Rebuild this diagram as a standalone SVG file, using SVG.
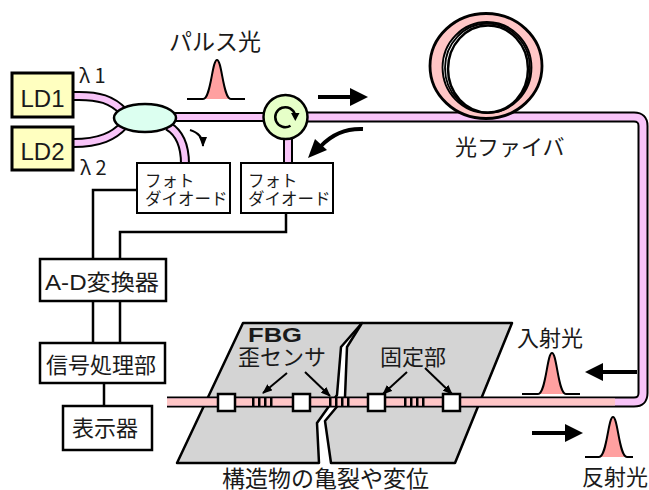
<svg xmlns="http://www.w3.org/2000/svg" width="649" height="490" viewBox="0 0 649 490">
<defs>
<style>
.t{font-family:"Noto Sans CJK JP","Liberation Sans",sans-serif;font-size:22px;fill:#1a1a1a}
.lat{font-family:"Liberation Sans","Noto Sans CJK JP",sans-serif}
.pd{font-size:16.5px}
.box{fill:#fff;stroke:#000;stroke-width:2.5}
.ld{fill:#ffffc0;stroke:#000;stroke-width:3}
.wire{fill:none;stroke:#000;stroke-width:2.5}
.fo{fill:none;stroke:#000;stroke-width:10}
.fi{fill:none;stroke:#f8c4f8;stroke-width:6}
.fs{fill:none;stroke:#ffc6c6;stroke-width:6}
.slab{fill:#d4d4d4;stroke:#000;stroke-width:2.5;stroke-linejoin:round}
.bump{fill:#ffa0a0;stroke:none}
.base{fill:none;stroke:#000;stroke-width:2}
.shaft{fill:none;stroke:#000;stroke-width:4}
.ptr{fill:none;stroke:#000;stroke-width:2}
.sq{fill:#fff;stroke:#000;stroke-width:2.5}
.coil{fill:none;stroke:#000;stroke-width:1.8}
</style>
<marker id="tip" viewBox="0 0 10 8" refX="9" refY="4" markerWidth="10" markerHeight="8" markerUnits="userSpaceOnUse" orient="auto">
<path d="M0,0 L10,4 L0,8 Z" fill="#000"/>
</marker>
</defs>

<!-- structure slabs with crack -->
<g id="structure">
<polygon class="slab" points="243,323 362,323 341,347 337,395 317,423 319,463 177,463"/>
<polygon class="slab" points="362,323 512,323 455,463 331,463 325,421 345,397 347,347"/>
</g>

<!-- optical fibres and electrical wiring -->
<g id="connectors">
<!-- LD1 / LD2 to coupler -->
<path class="fo" d="M73,96 C100,95 112,100 124,112"/>
<path class="fi" d="M73,96 C100,95 112,100 124,112"/>
<path class="fo" d="M73,143 C100,143 114,136 124,125"/>
<path class="fi" d="M73,143 C100,143 114,136 124,125"/>
<!-- coupler to photodiode 1 -->
<path class="fo" d="M168,126 Q185,136 185,164"/>
<path class="fi" d="M168,126 Q185,136 185,164"/>
<!-- coupler to circulator -->
<path class="fo" d="M170,117 H266"/>
<path class="fi" d="M170,117 H266"/>
<!-- circulator to photodiode 2 -->
<path class="fo" d="M288,136 V164"/>
<path class="fi" d="M288,136 V164"/>
<!-- main fibre loop -->
<path class="fo" d="M305,117 H634 Q643,117 643,126 V393 Q643,402 634,402 H167" style="stroke-width:11"/>
<path class="fi" d="M305,117 H634 Q643,117 643,126 V393 Q643,402 634,402 H167" style="stroke-width:7"/>
<path class="fs" d="M615,402 H167" style="stroke-width:7"/>

<!-- electrical wiring -->
<path class="wire" d="M137,190 H93 V259"/>
<path class="wire" d="M286,213 V232 H120 V259"/>
<path class="wire" d="M93,301 V343 M120,301 V343"/>
<path class="wire" d="M104,383 V406"/>
</g>

<!-- fibre coil -->
<g id="coil">
<ellipse cx="486" cy="66" rx="50" ry="47" fill="none" stroke="#ffc6c6" stroke-width="12"/>
<ellipse cx="486" cy="66" rx="56" ry="52.5" fill="none" stroke="#000" stroke-width="2.8"/>
<ellipse class="coil" cx="487" cy="67.5" rx="44.5" ry="45.5"/>
<ellipse class="coil" cx="487.5" cy="68" rx="42.5" ry="44.5"/>
<ellipse cx="488" cy="69" rx="40" ry="43.5" fill="#fff" stroke="#000" stroke-width="2.5"/>
</g>

<!-- light sources -->
<g id="ld1">
<rect class="ld" x="12" y="73" width="61" height="44"/>
<text class="t lat" x="42.5" y="107" style="font-size:24px" text-anchor="middle">LD1</text>
</g>
<g id="ld2">
<rect class="ld" x="12" y="127" width="61" height="43"/>
<text class="t lat" x="42.5" y="160" style="font-size:24px" text-anchor="middle">LD2</text>
</g>
<g id="lambda1"><text class="t" x="79" y="83" style="font-size:20px">λ 1</text></g>
<g id="lambda2"><text class="t" x="80" y="175" style="font-size:20px">λ 2</text></g>

<!-- coupler -->
<g id="coupler">
<ellipse cx="145" cy="118" rx="31" ry="14" fill="#dcfff0" stroke="#000" stroke-width="2.5"/>
</g>

<!-- circulator -->
<g id="circulator">
<circle cx="285.5" cy="117" r="22" fill="#e6ffc8" stroke="#000" stroke-width="2.5"/>
<path d="M290.5,125.7 A10,10 0 1 1 295,115" fill="none" stroke="#000" stroke-width="2.5"/>
<polygon points="291,113 299.5,113 295.3,121" fill="#000"/>
</g>

<!-- photodiodes -->
<g id="pd1">
<rect class="box" x="137" y="163" width="93" height="50" style="stroke-width:2"/>
<text class="t pd" x="145" y="187">フォト</text>
<text class="t pd" x="145" y="205">ダイオード</text>
</g>
<g id="pd2">
<rect class="box" x="241" y="163" width="92" height="50" style="stroke-width:2"/>
<text class="t pd" x="248" y="187">フォト</text>
<text class="t pd" x="248" y="205">ダイオード</text>
</g>

<!-- processing chain -->
<g id="adc">
<rect class="box" x="40" y="259" width="126" height="42"/>
<text class="t lat" x="45" y="290" textLength="114" lengthAdjust="spacingAndGlyphs">A-D変換器</text>
</g>
<g id="dsp">
<rect class="box" x="40" y="343" width="125" height="40"/>
<text class="t" x="46" y="373">信号処理部</text>
</g>
<g id="display">
<rect class="box" x="63" y="406" width="89" height="44"/>
<text class="t" x="72" y="436">表示器</text>
</g>

<!-- FBG sensors and fixing points on the fibre -->
<g id="fbg">
<rect class="sq" x="218" y="394" width="17" height="17"/>
<rect class="sq" x="293" y="394" width="17" height="17"/>
<rect class="sq" x="368" y="394" width="17" height="17"/>
<rect class="sq" x="443" y="394" width="17" height="17"/>
<g fill="#000">
<rect x="252" y="398" width="2.5" height="9"/><rect x="258" y="398" width="2.5" height="9"/><rect x="264" y="398" width="2.5" height="9"/><rect x="270" y="398" width="2.5" height="9"/>
<rect x="329" y="398" width="2.5" height="9"/><rect x="335" y="398" width="2.5" height="9"/><rect x="341" y="398" width="2.5" height="9"/><rect x="347" y="398" width="2.5" height="9"/>
<rect x="404" y="398" width="2.5" height="9"/><rect x="410" y="398" width="2.5" height="9"/><rect x="416" y="398" width="2.5" height="9"/><rect x="422" y="398" width="2.5" height="9"/>
</g>
</g>

<!-- pointers -->
<g id="pointers">
<path class="ptr" d="M287,373 L263,393" marker-end="url(#tip)"/>
<path class="ptr" d="M305,372 L330,396" marker-end="url(#tip)"/>
<path class="ptr" d="M407,372 L383,394" marker-end="url(#tip)"/>
<path class="ptr" d="M425,368 L452,394" marker-end="url(#tip)"/>
<path class="ptr" d="M190,130 Q203,134 203,146" marker-end="url(#tip)"/>
</g>

<!-- direction arrows -->
<g id="arrows">
<path class="shaft" d="M318,97 H352"/>
<polygon points="350,88 368,97 350,106" fill="#000"/>
<path class="shaft" d="M363,129 Q338,128 321,146"/>
<polygon points="308,158 315,139 327,150" fill="#000"/>
<path class="shaft" d="M637,372 H601"/>
<polygon points="603,363 585,372 603,381" fill="#000"/>
<path class="shaft" d="M532,433 H567"/>
<polygon points="565,424 583,433 565,442" fill="#000"/>
</g>

<!-- pulses -->
<g id="pulse-out">
<path class="bump" d="M203,99 C211,99 212,60 217,60 C222,60 223,99 231,99 Z"/>
<path class="base" d="M187,99 H203 C211,99 212,60 217,60 C222,60 223,99 231,99 H245"/>
</g>
<g id="pulse-in">
<path class="bump" d="M538,394 C546,394 547,353 552,353 C557,353 558,394 566,394 Z"/>
<path class="base" d="M522,394 H538 C546,394 547,353 552,353 C557,353 558,394 566,394 H580"/>
</g>
<g id="pulse-back">
<path class="bump" d="M599,457 C607,457 608,417 613,417 C618,417 619,457 627,457 Z"/>
<path class="base" d="M585,457 H599 C607,457 608,417 613,417 C618,417 619,457 627,457 H633"/>
</g>

<!-- labels -->
<g id="labels">
<text class="t" x="169" y="50" style="font-size:23px">パルス光</text>
<text class="t" x="455" y="155">光ファイバ</text>
<text class="t lat" x="248" y="342" style="font-size:20px;font-weight:bold" textLength="54" lengthAdjust="spacingAndGlyphs">FBG</text>
<text class="t" x="238" y="365">歪センサ</text>
<text class="t" x="380" y="365">固定部</text>
<text class="t" x="517" y="346">入射光</text>
<text class="t" x="582" y="485">反射光</text>
<text class="t" x="222" y="487" style="font-size:23px">構造物の亀裂や変位</text>
</g>
</svg>
